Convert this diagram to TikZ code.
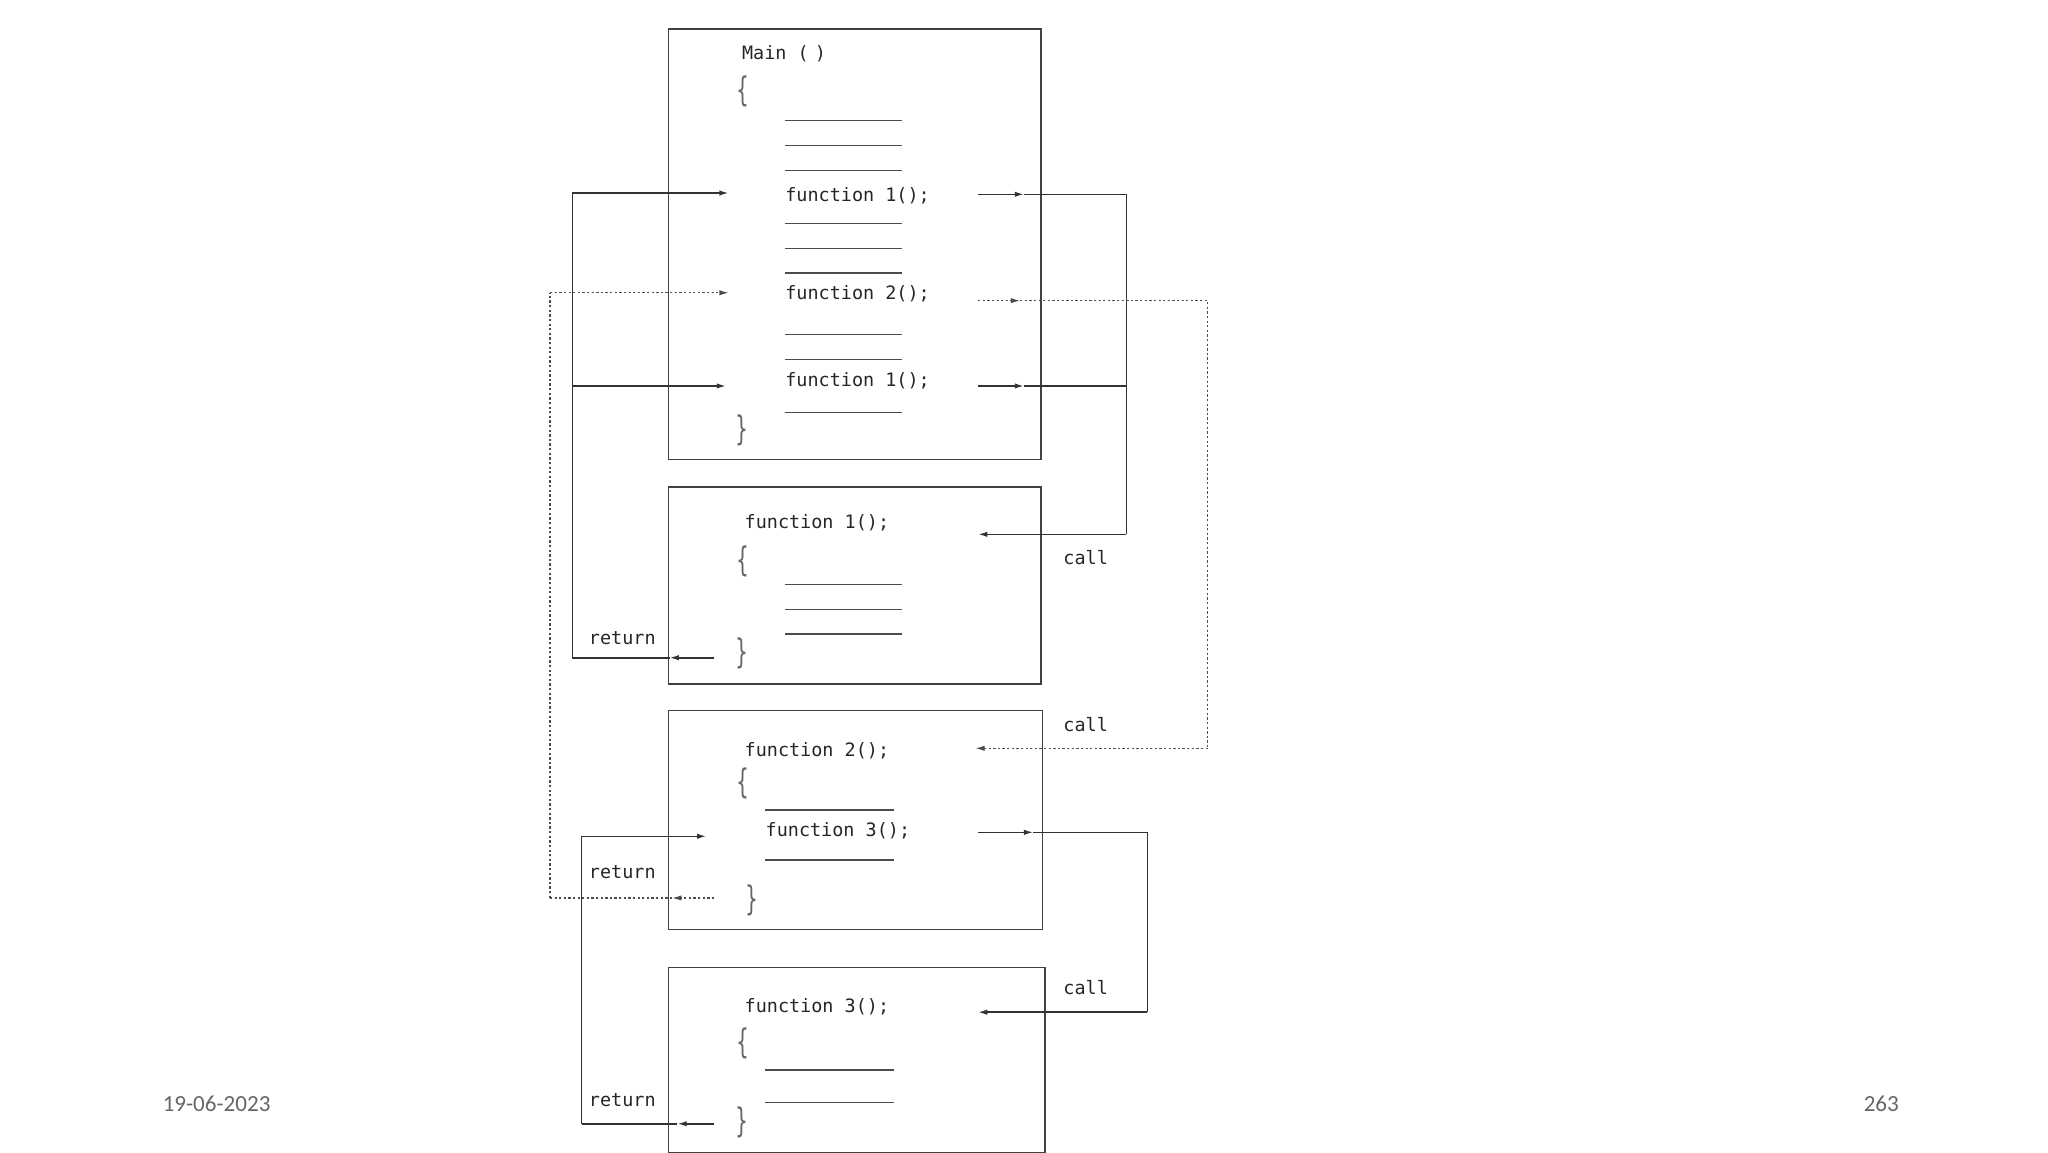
\documentclass[tikz,border=0pt]{standalone}
\usepackage{fontspec}
\setmonofont{DejaVu Sans Mono}
\newfontfamily\footfont{Carlito}
\newfontfamily\brfont{DejaVu Sans}
\usetikzlibrary{arrows.meta}
\begin{document}
\begin{tikzpicture}[x=0.03cm,y=-0.03cm,
  box/.style={draw=black!75,line width=0.9pt},
  code/.style={anchor=west,inner sep=0pt,font=\ttfamily\fontsize{12}{12}\selectfont,text=black!85},
  brc/.style={anchor=center,inner sep=0pt,font=\brfont\fontsize{22}{22}\selectfont,text=black!60,xscale=0.6},
  blank/.style={draw=black!70,line width=0.8pt},
  conn/.style={draw=black!80,line width=1pt},
  dconn/.style={draw=black!70,line width=0.8pt,dash pattern=on 1.5pt off 1.5pt},
  tip/.style={-{Latex[length=6pt,width=3.5pt]}},
  lbl/.style={anchor=center,inner sep=0pt,font=\ttfamily\fontsize{12}{12}\selectfont,text=black!85},
  foot/.style={anchor=center,inner sep=0pt,font=\footfont\fontsize{15}{15}\selectfont,text=black!60}]
\useasboundingbox (0,0) rectangle (1560,877.5);
% boxes
\draw[box] (509,22) rectangle (793,350);
\draw[box] (509,371) rectangle (793,521);
\draw[box] (509,541) rectangle (794,708);
\draw[box] (509,737) rectangle (796,878);
% main
\node[code] (mainT) at (565,41) {Main (\,\,)};
\node[brc] (b1o) at (566,70) {\{};
\foreach \y in {92,111,130,170,189,208,255,274,314} \draw[blank] (598,\y) -- (687,\y);
\node[code] (m1) at (598,149) {function 1();};
\node[code] (m2) at (598,224) {function 2();};
\node[code] (m3) at (598,290) {function 1();};
\node[brc] (b1c) at (565,328) {\}};
% f1
\node[code] (f1) at (567,398) {function 1();};
\node[brc] (b2o) at (566,428) {\{};
\foreach \y in {445,464,483} \draw[blank] (598,\y) -- (687,\y);
\node[brc] (b2c) at (565,498) {\}};
\node[lbl] (r1) at (474,486) {return};
\node[lbl] (c1) at (827,425) {call};
% f2
\node[code] (f2) at (567,572) {function 2();};
\node[brc] (b3o) at (566,597) {\{};
\foreach \y in {617,655} \draw[blank] (583,\y) -- (681,\y);
\node[code] (f2c) at (583,633) {function 3();};
\node[brc] (b3c) at (573,686) {\}};
\node[lbl] (r2) at (474,664) {return};
\node[lbl] (c2) at (827,552) {call};
% f3
\node[code] (f3) at (567,767) {function 3();};
\node[brc] (b4o) at (566,795) {\{};
\foreach \y in {815,840} \draw[blank] (583,\y) -- (681,\y);
\node[brc] (b4c) at (565,855) {\}};
\node[lbl] (r3) at (474,838) {return};
\node[lbl] (c3) at (827,752) {call};
% footer
\node[foot] (date) at (165,841) {19-06-2023};
\node[foot] (pg) at (1433,841) {263};
% coordinates
\coordinate (L1a) at (436,147); \coordinate (L1b) at (555,147);
\coordinate (L1c) at (436,294); \coordinate (L1d) at (553,294);
\coordinate (L1e) at (544,501); \coordinate (L1m) at (510,501); \coordinate (L1f) at (436,501);
\coordinate (R1a) at (745,148); \coordinate (R1m) at (780,148); \coordinate (R1b) at (858,148);
\coordinate (R1c) at (745,294); \coordinate (R1n) at (780,294); \coordinate (R1d) at (858,294);
\coordinate (R1e) at (858,407); \coordinate (R1f) at (745,407);
\coordinate (D1a) at (419,223); \coordinate (D1b) at (555,223);
\coordinate (D1e) at (544,684); \coordinate (D1m) at (512,684); \coordinate (D1f) at (419,684);
\coordinate (DRa) at (745,229); \coordinate (DRm) at (777,229); \coordinate (DRb) at (920,229);
\coordinate (DRc) at (920,570); \coordinate (DRd) at (743,570);
\coordinate (T1a) at (745,634); \coordinate (T1m) at (787,634); \coordinate (T1b) at (874,634);
\coordinate (T1c) at (874,771); \coordinate (T1d) at (745,771);
\coordinate (T2a) at (443,637); \coordinate (T2b) at (538,637);
\coordinate (T2e) at (544,856); \coordinate (T2m) at (516,856); \coordinate (T2f) at (443,856);
% solid function1 connectors
\draw[conn] (L1f) -- (L1a);
\draw[conn,tip] (L1a) -- (L1b);
\draw[conn,tip] (L1c) -- (L1d);
\draw[conn,tip] (L1e) -- (L1m);
\draw[conn] (L1m) -- (L1f);
\draw[conn,tip] (R1a) -- (R1m);
\draw[conn] (R1m) -- (R1b) -- (R1e);
\draw[conn,tip] (R1c) -- (R1n);
\draw[conn] (R1n) -- (R1d);
\draw[conn,tip] (R1e) -- (R1f);
% dotted function2 connectors
\draw[dconn] (D1f) -- (D1a);
\draw[dconn,tip] (D1a) -- (D1b);
\draw[dconn,tip] (D1e) -- (D1m);
\draw[dconn] (D1m) -- (D1f);
\draw[dconn,tip] (DRa) -- (DRm);
\draw[dconn] (DRm) -- (DRb) -- (DRc);
\draw[dconn,tip] (DRc) -- (DRd);
% function3 connectors
\draw[conn,tip] (T1a) -- (T1m);
\draw[conn] (T1m) -- (T1b) -- (T1c);
\draw[conn,tip] (T1c) -- (T1d);
\draw[conn] (T2f) -- (T2a);
\draw[conn,tip] (T2a) -- (T2b);
\draw[conn,tip] (T2e) -- (T2m);
\draw[conn] (T2m) -- (T2f);
\end{tikzpicture}
\end{document}
